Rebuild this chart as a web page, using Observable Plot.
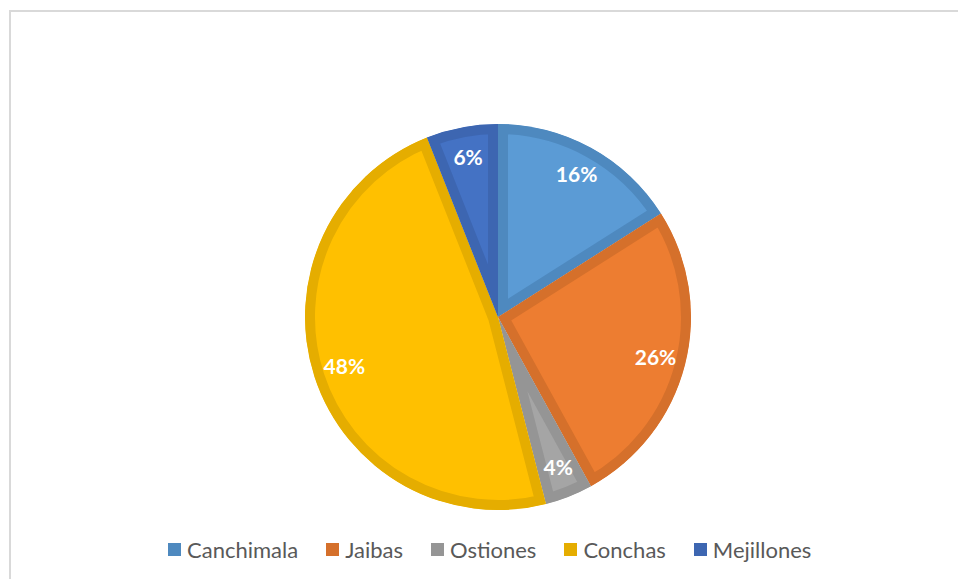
<!DOCTYPE html>
<html>
<head>
<meta charset="utf-8">
<script src="https://cdn.jsdelivr.net/npm/d3@7"></script>
<script src="https://cdn.jsdelivr.net/npm/@observablehq/plot@0.6"></script>
<style>
  html, body { margin: 0; padding: 0; background: #fff; }
  #wrap { position: relative; width: 958px; height: 579px; overflow: hidden; font-family: Lato, "Open Sans", sans-serif; }
  #frame { position: absolute; left: 9px; top: 10px; width: 2000px; height: 2000px;
           border-left: 2px solid #d9d9d9; border-top: 2px solid #d9d9d9; pointer-events: none; z-index: 2; }
  #legend { display: flex; align-items: center; margin-left: 168px; margin-top: 7px; height: 24px;
            font-size: 22px; color: #595959; }
  .item { display: flex; align-items: center; margin-right: 28px; }
  .sw { width: 13px; height: 13px; margin-right: 6px; }
</style>
</head>
<body>
<div id="wrap"><div id="frame"></div><div id="chart"></div><div id="legend"></div></div>
<script>
const categories = ["Canchimala", "Jaibas", "Ostiones", "Conchas", "Mejillones"];
const shares = [16, 26, 4, 48, 6];
const labels = ["16%", "26%", "4%", "48%", "6%"];
const fills = ["#5B9BD5", "#ED7D31", "#A5A5A5", "#FFC000", "#4472C4"];
const borders = ["#4E89BF", "#D5702B", "#959595", "#E5AD00", "#3D66B1"];

const data = categories.map((c, i) => ({category: c, value: shares[i], label: labels[i], fill: fills[i], border: borders[i]}));
const arcs = d3.pie().value(d => d.value).sort(null)(data);
const labelRadius = 0.84;
const labelData = arcs.map(a => {
  const m = (a.startAngle + a.endAngle) / 2;
  return {label: a.data.label, x: labelRadius * Math.sin(m), y: labelRadius * Math.cos(m)};
});

const xOpt = {domain: [-1, 1], range: [305, 691]};
const yOpt = {domain: [-1, 1], range: [510, 124]};
const fbX = Plot.scale({x: xOpt}), fbY = Plot.scale({y: yOpt});

function pieMark(index, scales) {
  const sx = scales && typeof scales.x === "function" ? scales.x : (v => fbX.apply(v));
  const sy = scales && typeof scales.y === "function" ? scales.y : (v => fbY.apply(v));
  const cx = sx(0), cy = sy(0), r = sx(1) - cx;
  const arc = d3.arc().innerRadius(0).outerRadius(r);
  const g = d3.create("svg:g").attr("transform", `translate(${cx},${cy})`);
  const defs = g.append("defs");
  arcs.forEach((a, i) => {
    const id = "sliceclip" + i;
    defs.append("clipPath").attr("id", id).append("path").attr("d", arc(a));
    g.append("path").attr("d", arc(a))
      .attr("fill", a.data.fill)
      .attr("stroke", a.data.border)
      .attr("stroke-width", 20)
      .attr("stroke-linejoin", "miter")
      .attr("clip-path", `url(#${id})`);
  });
  return g.node();
}

const plot = Plot.plot({
  width: 958,
  height: 530,
  margin: 0,
  style: {background: "transparent"},
  x: {...xOpt, axis: null},
  y: {...yOpt, axis: null},
  marks: [
    pieMark,
    Plot.text(labelData, {x: "x", y: "y", text: "label", fill: "white", fontSize: 21,
      fontWeight: "bold", fontFamily: "Lato, 'Open Sans', sans-serif"})
  ]
});
document.getElementById("chart").appendChild(plot);

const legend = document.getElementById("legend");
data.forEach(d => {
  const it = document.createElement("div");
  it.className = "item";
  const sw = document.createElement("span");
  sw.className = "sw";
  sw.style.background = d.border;
  const tx = document.createElement("span");
  tx.textContent = d.category;
  it.appendChild(sw); it.appendChild(tx);
  legend.appendChild(it);
});
</script>
</body>
</html>
